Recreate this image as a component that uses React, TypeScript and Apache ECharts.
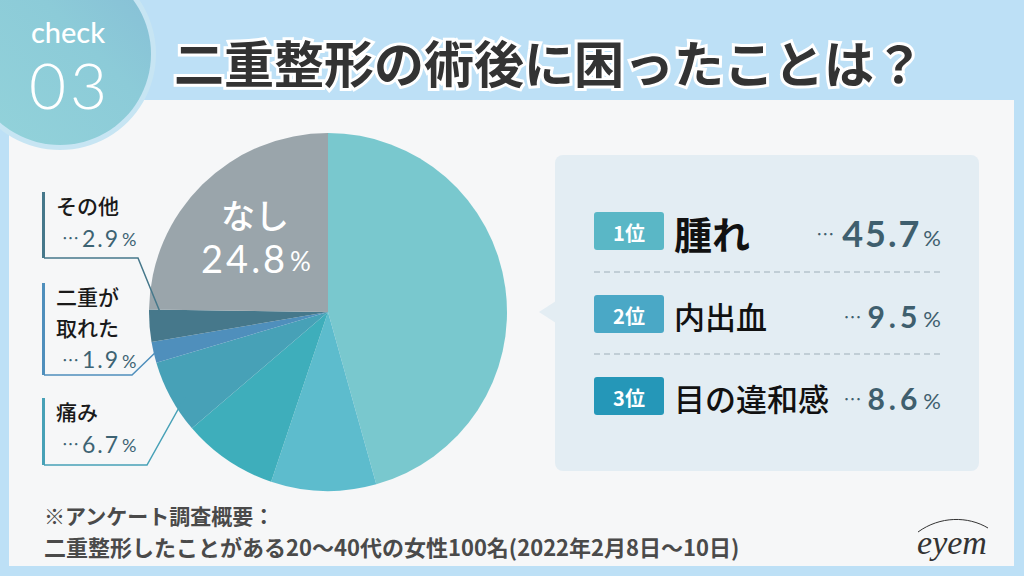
import React, { useEffect, useRef } from "react";
import * as echarts from "echarts";

const categories = ["腫れ", "内出血", "目の違和感", "痛み", "二重が取れた", "その他", "なし"];
const values = [45.7, 9.5, 8.6, 6.7, 1.9, 2.9, 24.8];
const palette = ["#79c8ce", "#5dbccd", "#3eaebb", "#47a1b7", "#4f8fbc", "#46788b", "#9aa5ab"];
const rankLabels = ["1位", "2位", "3位"];
const badgeColors = ["#5ab7c6", "#4aa8c6", "#2597b8"];
const titleText = "二重整形の術後に困ったことは？";
const noteLines = ["※アンケート調査概要：", "二重整形したことがある20～40代の女性100名(2022年2月8日～10日)"];

const JP = '"Noto Sans CJK JP", "Noto Sans", sans-serif';
const NUM = 'Lato, "Noto Sans", sans-serif';

const spaced = (s: string, key: string) =>
  s
    .split("")
    .map((c) => `{${key}|${c}}`)
    .join("");

export default function App() {
  const ref = useRef<HTMLDivElement>(null);
  useEffect(() => {
    document.body.style.margin = "0";
    const chart = echarts.init(ref.current!, null, { renderer: "svg" });

    const rowY = [231, 314, 396];
    const nameSizes = [38, 31, 31];
    const rows: any[] = [];
    for (let i = 0; i < 3; i++) {
      rows.push({
        type: "rect",
        shape: { x: 594, y: rowY[i] - 19, width: 70, height: 38, r: 3 },
        style: { fill: badgeColors[i] },
      });
      rows.push({
        type: "text",
        x: 629,
        y: rowY[i] + 1,
        style: { text: rankLabels[i], font: `bold 20px ${JP}`, fill: "#fff", align: "center", verticalAlign: "middle" },
      });
      rows.push({
        type: "text",
        x: 674,
        y: rowY[i] + 1,
        style: {
          text: categories[i],
          font: `${i === 0 ? "bold" : "500"} ${nameSizes[i]}px ${JP}`,
          fill: "#111",
          align: "left",
          verticalAlign: "middle",
        },
      });
      const big = i === 0;
      rows.push({
        type: "text",
        x: 941,
        y: rowY[i] + 2,
        style: {
          text: `{d|…}${spaced(values[i].toFixed(1), "n")}{p|%}`,
          align: "right",
          verticalAlign: "middle",
          rich: {
            d: { fontSize: 18, fill: "#3f5f6e", fontFamily: JP, padding: [0, big ? 8 : 6, 0, 0] },
            n: {
              fontSize: big ? 36 : 30,
              fontWeight: "bold",
              fill: "#3f5f6e",
              fontFamily: NUM,
              padding: [0, big ? 2 : 4, 0, 0],
            },
            p: { fontSize: 22, fill: "#3f5f6e", fontFamily: NUM, padding: [big ? 8 : 5, 0, 0, 2] },
          },
        },
      });
    }
    const dashes = [272, 354].map((y) => ({
      type: "line",
      shape: { x1: 594, y1: y, x2: 940, y2: y },
      style: { stroke: "#9fb0ba", lineWidth: 1.2, lineDash: [6, 4] },
    }));

    const LH = 30.5;
    const callouts = [
      { idx: 5, top: 192, bottom: 258, hx: 138, tx: 160, ty: 312, lines: ["その他"] },
      { idx: 4, top: 283, bottom: 375, hx: 132, tx: 158, ty: 350, lines: ["二重が", "取れた"] },
      { idx: 3, top: 398, bottom: 465, hx: 147, tx: 185, ty: 397, lines: ["痛み"] },
    ];
    const calloutEls: any[] = [];
    callouts.forEach((c) => {
      const col = palette[c.idx];
      calloutEls.push({
        type: "rect",
        shape: { x: 42, y: c.top, width: 3, height: c.bottom - c.top },
        style: { fill: col },
      });
      calloutEls.push({
        type: "polyline",
        shape: { points: [[44, c.bottom], [c.hx, c.bottom], [c.tx, c.ty]] },
        style: { stroke: col, lineWidth: 1.5, fill: null },
        z: 10,
      });
      calloutEls.push({
        type: "text",
        x: 56,
        y: c.top - 2,
        style: {
          text: c.lines.join("\n"),
          font: `500 21px ${JP}`,
          lineHeight: LH,
          fill: "#1a1a1a",
          verticalAlign: "top",
        },
      });
      calloutEls.push({
        type: "text",
        x: 62,
        y: c.top + 14 + c.lines.length * LH + 1,
        style: {
          text: `{d|…}${spaced(values[c.idx].toFixed(1), "n")}{p|%}`,
          verticalAlign: "middle",
          rich: {
            d: { fontSize: 17, fill: "#3d6373", fontFamily: JP, padding: [0, 3, 0, 0] },
            n: { fontSize: 23, fill: "#3d6373", fontFamily: NUM, padding: [0, 2, 0, 0] },
            p: { fontSize: 18, fill: "#3d6373", fontFamily: NUM, padding: [3, 0, 0, 2] },
          },
        },
      });
    });

    chart.setOption({
      animation: false,
      backgroundColor: "#bde0f6",
      series: [
        {
          type: "pie",
          center: [328, 312],
          radius: 179,
          startAngle: 90,
          clockwise: true,
          label: { show: false },
          labelLine: { show: false },
          emphasis: { disabled: true },
          itemStyle: { borderWidth: 0 },
          data: categories.map((c, i) => ({ name: c, value: values[i], itemStyle: { color: palette[i] } })),
          z: 2,
        },
      ],
      graphic: [
        {
          type: "rect",
          z: -10,
          shape: { x: 9, y: 100, width: 1005, height: 466 },
          style: { fill: "#f6f7f8" },
        },
        {
          type: "circle",
          z: -5,
          shape: { cx: 60, cy: 54, r: 96 },
          style: { fill: "#c7e5f3" },
        },
        {
          type: "circle",
          z: -4,
          shape: { cx: 60, cy: 54, r: 91 },
          style: {
            fill: new echarts.graphic.LinearGradient(0, 1, 1, 0, [
              { offset: 0, color: "#93d3da" },
              { offset: 0.6, color: "#8ccbd8" },
              { offset: 1, color: "#86bdd6" },
            ]),
          },
        },
        {
          type: "text",
          x: 68,
          y: 31,
          style: { text: "check", font: `500 29px ${NUM}`, fill: "#fff", align: "center", verticalAlign: "middle" },
        },
        {
          type: "text",
          x: 68,
          y: 84,
          style: {
            text: spaced("03", "n"),
            align: "center",
            verticalAlign: "middle",
            rich: { n: { fontSize: 64, fontWeight: 300, fontFamily: NUM, fill: "#fff", padding: [0, 2, 0, 2] } },
          },
        },
        {
          type: "text",
          x: 549,
          y: 61,
          style: {
            text: titleText,
            font: `bold 50px ${JP}`,
            fill: "#333",
            stroke: "#fff",
            lineWidth: 6,
            strokeFirst: true,
            align: "center",
            verticalAlign: "middle",
          },
        },
        {
          type: "rect",
          z: -3,
          shape: { x: 555, y: 155, width: 424, height: 316, r: 8 },
          style: { fill: "#e3edf3" },
        },
        {
          type: "polygon",
          z: -3,
          shape: { points: [[556, 301], [539, 312], [556, 323]] },
          style: { fill: "#e3edf3" },
        },
        ...dashes,
        ...rows,
        ...calloutEls,
        {
          type: "text",
          x: 255,
          y: 214,
          z: 20,
          style: { text: categories[6], font: `500 34px ${JP}`, fill: "#fff", align: "center", verticalAlign: "middle" },
        },
        {
          type: "text",
          x: 256,
          y: 258,
          z: 20,
          style: {
            text: `${spaced(values[6].toFixed(1), "n")}{p|%}`,
            align: "center",
            verticalAlign: "middle",
            rich: {
              n: { fontSize: 38, fill: "#fff", fontFamily: NUM, padding: [0, 3, 0, 0] },
              p: { fontSize: 26, fill: "#fff", fontFamily: NUM, padding: [6, 0, 0, 2] },
            },
          },
        },
        {
          type: "text",
          x: 44,
          y: 515,
          style: { text: noteLines[0], font: `bold 21px ${JP}`, fill: "#4a4a4a", verticalAlign: "middle" },
        },
        {
          type: "text",
          x: 44,
          y: 546,
          style: { text: noteLines[1], font: `bold 22px ${JP}`, fill: "#4a4a4a", verticalAlign: "middle" },
        },
        {
          type: "text",
          x: 952,
          y: 542,
          style: {
            text: "eyem",
            font: 'italic 34px "Liberation Serif", serif',
            fill: "#333",
            align: "center",
            verticalAlign: "middle",
          },
        },
        {
          type: "bezierCurve",
          shape: { x1: 918, y1: 532, cpx1: 940, cpy1: 516, cpx2: 968, cpy2: 516, x2: 988, y2: 528 },
          style: { stroke: "#333", lineWidth: 1, fill: null },
        },
      ],
    });
    return () => chart.dispose();
  }, []);
  return <div ref={ref} style={{ width: 1024, height: 576 }} />;
}
